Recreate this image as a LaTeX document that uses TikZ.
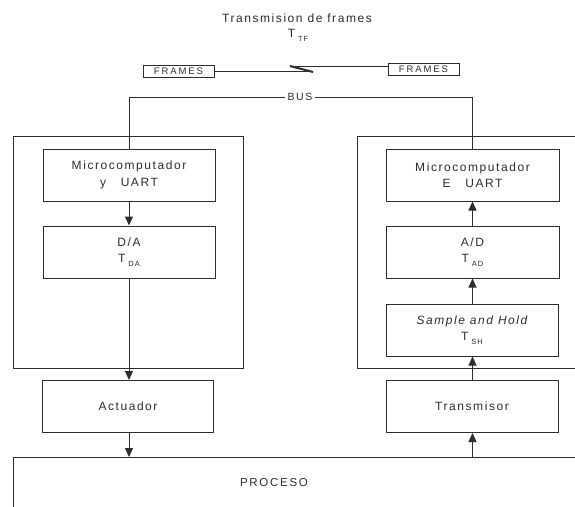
\documentclass[tikz,border=0pt]{standalone}
\usepackage{fontspec}
\setmainfont{Liberation Sans}[LetterSpace=13]
\usetikzlibrary{arrows.meta}
\newcommand\tsub[1]{T\kern3pt\raisebox{-4pt}{\fontsize{7.5}{7.5}\selectfont #1}}
\definecolor{ink}{HTML}{2E2E2E}
\tikzset{
  blk/.style={draw=ink, line width=1pt, minimum width=172pt, minimum height=52pt,
    align=center, text=ink, font=\fontsize{12}{16.5}\selectfont, inner sep=0pt},
  frm/.style={draw=ink, line width=1pt, minimum width=71pt, minimum height=12pt,
    inner sep=0pt, text=ink, font=\fontsize{9.5}{9.5}\selectfont\addfontfeatures{LetterSpace=20}},
  wire/.style={draw=ink, line width=1pt},
  flow/.style={wire, -{Triangle[length=9pt,width=8pt]}},
  lbl/.style={text=ink, inner sep=0pt},
}
\begin{document}
\begin{tikzpicture}[x=1pt,y=-1pt]
\useasboundingbox (0,0) rectangle (575,506);
\clip (0,0) rectangle (575,506);
\fill[white] (0,0) rectangle (575,506);

% link between the two frame buffers
\node[lbl, font=\fontsize{12}{14}\selectfont] (title) at (297,18) {Transmision de frames};
\node[lbl, font=\fontsize{12}{14}\selectfont] (ttf) at (298,35) {\tsub{TF}};
\node[frm] (fl) at (178.5,71.5) {FRAMES};
\node[frm] (fr) at (423.5,69.5) {FRAMES};
\coordinate (z1) at (290,66);
\coordinate (z2) at (313,72);
\draw[wire] (fl.east) -- (fl.east -| z2);
\draw[draw=ink, line width=2pt] (z2) -- (z1);
\draw[wire] (z1) -- (z1 -| fr.west);

% bus
\node[lbl, fill=white, inner xsep=2pt, font=\fontsize{10.5}{12}\selectfont\addfontfeatures{LetterSpace=15}] (bus) at (300,97) {BUS};

% enclosures
\draw[wire] (13,136) rectangle (243,368);
\draw[wire] (357,136) rectangle (590,368);

% receiving side
\node[blk] (mcl) at (129,175) {Microcomputador\\y\ \ \ UART};
\node[blk] (dal) at (129,252) {D/A\\\tsub{DA}};
\node[blk, minimum width=171pt] (act) at (128,406.5) {Actuador};

% sending side
\node[blk, minimum width=173pt] (mcr) at (472.5,175) {Microcomputador\\E\ \ \ UART};
\node[blk, minimum width=173pt] (adr) at (472.5,252) {A/D\\\tsub{AD}};
\node[blk] (sh) at (472,330) {{\itshape Sample and Hold}\\\tsub{SH}};
\node[blk] (tr) at (472,406.5) {Transmisor};

% process
\node[draw=ink, line width=1pt, anchor=north west, minimum width=620pt, minimum height=80pt] (proc) at (13,457) {};
\node[lbl, font=\fontsize{11.5}{14}\selectfont\addfontfeatures{LetterSpace=15}] (proctext) at (274,483) {PROCESO};

% connections
\draw[wire] (mcl.north) |- (bus.west);
\draw[wire] (bus.east) -| (mcr.north);
\draw[flow] (mcl.south) -- (dal.north);
\draw[flow] (dal.south) -- (act.north -| dal.south);
\draw[flow] (act.south -| mcl.south) -- (proc.north -| mcl.south);
\draw[flow] (proc.north -| mcr.south) -- (tr.south -| mcr.south);
\draw[flow] (tr.north -| mcr.south) -- (sh.south -| mcr.south);
\draw[flow] (sh.north -| mcr.south) -- (adr.south);
\draw[flow] (adr.north) -- (mcr.south);
\end{tikzpicture}
\end{document}
